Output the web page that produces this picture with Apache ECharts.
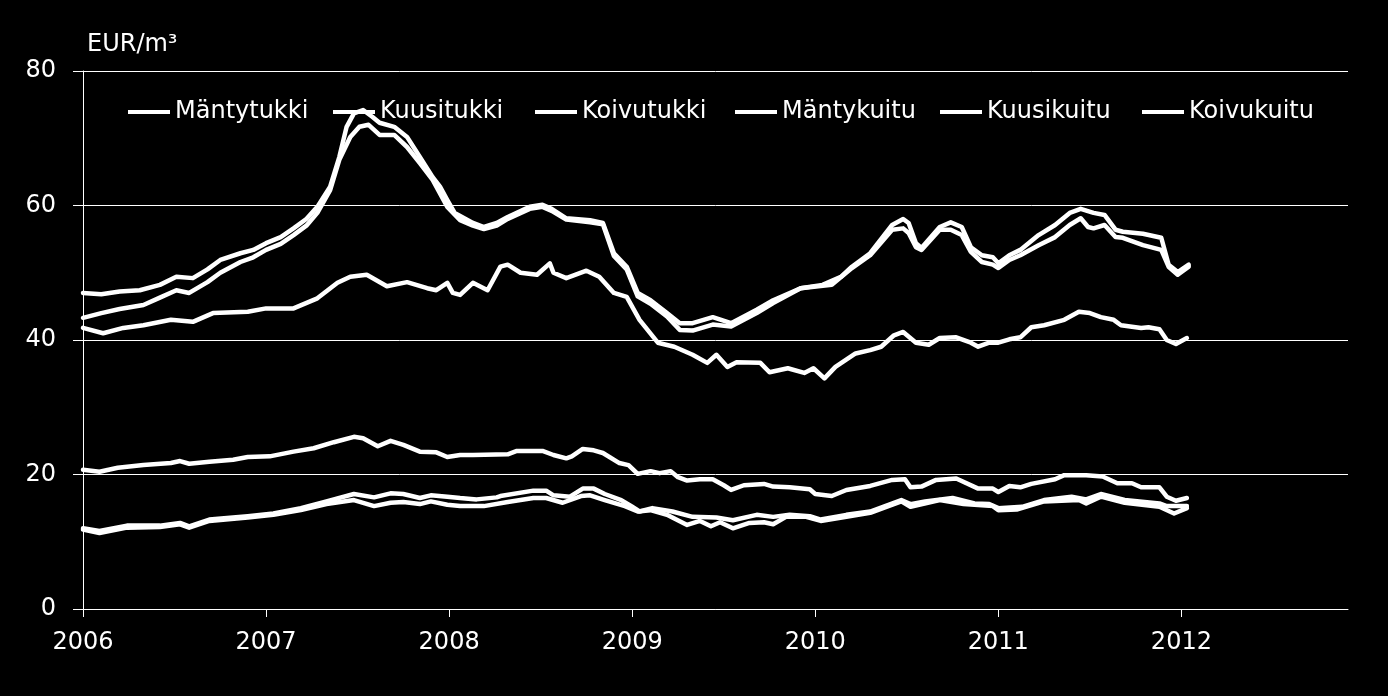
<!DOCTYPE html>
<html>
<head>
<meta charset="utf-8">
<script src="https://cdn.jsdelivr.net/npm/echarts@6/dist/echarts.min.js"></script>
<style>
html,body{margin:0;padding:0;background:#000;}
#c{width:1388px;height:696px;}
</style>
</head>
<body>
<div id="c"></div>
<script>
// ---- data (decimal year, EUR/m3) ----
var seriesNames = ['Mäntytukki','Kuusitukki','Koivutukki','Mäntykuitu','Kuusikuitu','Koivukuitu'];
var yearTicks = [2006,2007,2008,2009,2010,2011,2012];
var yTicks = [0,20,40,60,80];
var unitLabel = 'EUR/m³';

var mantytukki = [[2006.0,47.0],[2006.1,46.8],[2006.2,47.2],[2006.31,47.4],[2006.42,48.2],[2006.51,49.4],[2006.6,49.2],[2006.68,50.5],[2006.75,51.9],[2006.86,52.9],[2006.93,53.4],[2007.0,54.4],[2007.08,55.3],[2007.15,56.6],[2007.22,58.0],[2007.28,59.8],[2007.35,62.8],[2007.4,67.2],[2007.44,71.7],[2007.48,73.7],[2007.53,74.2],[2007.58,73.2],[2007.62,72.3],[2007.7,71.7],[2007.77,70.2],[2007.84,67.2],[2007.91,64.2],[2007.95,62.8],[2007.99,60.8],[2008.03,58.9],[2008.13,57.4],[2008.19,56.8],[2008.26,57.4],[2008.32,58.3],[2008.44,59.8],[2008.51,60.1],[2008.56,59.5],[2008.64,58.1],[2008.77,57.8],[2008.84,57.4],[2008.9,52.9],[2008.97,50.9],[2009.03,47.0],[2009.1,45.9],[2009.19,44.0],[2009.26,42.5],[2009.33,42.5],[2009.44,43.4],[2009.54,42.5],[2009.68,44.5],[2009.77,45.9],[2009.92,47.7],[2010.04,48.2],[2010.14,49.4],[2010.2,50.9],[2010.3,52.9],[2010.42,57.1],[2010.48,58.0],[2010.51,57.4],[2010.55,54.4],[2010.58,53.7],[2010.68,56.8],[2010.74,57.5],[2010.8,56.8],[2010.85,53.8],[2010.91,52.6],[2010.97,52.3],[2011.0,51.4],[2011.06,52.6],[2011.12,53.4],[2011.22,55.6],[2011.31,57.1],[2011.39,58.9],[2011.45,59.5],[2011.52,58.9],[2011.58,58.6],[2011.64,56.4],[2011.68,56.1],[2011.79,55.8],[2011.89,55.2],[2011.93,51.2],[2011.98,50.1],[2012.04,51.2]];

var kuusitukki = [[2006.0,43.3],[2006.1,44.0],[2006.2,44.6],[2006.33,45.2],[2006.42,46.3],[2006.51,47.4],[2006.58,47.0],[2006.68,48.6],[2006.75,50.0],[2006.86,51.6],[2006.93,52.3],[2007.0,53.4],[2007.08,54.3],[2007.15,55.6],[2007.22,57.0],[2007.28,58.9],[2007.35,62.3],[2007.4,66.8],[2007.46,70.2],[2007.51,71.7],[2007.56,72.0],[2007.62,70.5],[2007.7,70.5],[2007.77,68.7],[2007.84,66.3],[2007.91,63.8],[2007.99,59.8],[2008.06,57.8],[2008.13,57.0],[2008.19,56.5],[2008.26,57.0],[2008.32,58.0],[2008.44,59.5],[2008.51,59.8],[2008.56,59.2],[2008.64,57.9],[2008.77,57.5],[2008.84,57.2],[2008.9,52.5],[2008.97,50.5],[2009.03,46.5],[2009.1,45.4],[2009.19,43.5],[2009.26,41.5],[2009.33,41.4],[2009.44,42.3],[2009.54,42.0],[2009.68,44.0],[2009.77,45.5],[2009.92,47.7],[2010.09,48.2],[2010.2,50.7],[2010.3,52.6],[2010.42,56.4],[2010.48,56.6],[2010.51,55.9],[2010.55,53.8],[2010.58,53.4],[2010.68,56.4],[2010.74,56.4],[2010.8,55.6],[2010.85,53.1],[2010.91,51.6],[2010.97,51.2],[2011.0,50.7],[2011.06,51.9],[2011.12,52.6],[2011.22,54.1],[2011.31,55.3],[2011.39,57.1],[2011.45,58.1],[2011.49,56.8],[2011.52,56.6],[2011.58,57.1],[2011.64,55.3],[2011.68,55.2],[2011.79,54.1],[2011.89,53.4],[2011.93,50.9],[2011.98,49.7],[2012.04,50.9]];

var koivutukki = [[2006.0,41.8],[2006.11,41.0],[2006.22,41.8],[2006.33,42.2],[2006.48,43.0],[2006.6,42.7],[2006.71,44.0],[2006.9,44.2],[2007.0,44.7],[2007.15,44.7],[2007.28,46.2],[2007.39,48.5],[2007.46,49.4],[2007.55,49.7],[2007.66,48.0],[2007.77,48.6],[2007.88,47.7],[2007.93,47.4],[2007.99,48.5],[2008.02,47.0],[2008.06,46.7],[2008.13,48.5],[2008.21,47.4],[2008.28,50.9],[2008.32,51.2],[2008.39,50.0],[2008.48,49.7],[2008.55,51.4],[2008.57,50.0],[2008.64,49.2],[2008.75,50.3],[2008.82,49.4],[2008.9,47.0],[2008.97,46.4],[2009.04,43.0],[2009.14,39.6],[2009.23,39.0],[2009.33,37.8],[2009.41,36.6],[2009.46,37.8],[2009.52,36.0],[2009.57,36.7],[2009.7,36.6],[2009.75,35.2],[2009.85,35.8],[2009.94,35.1],[2009.99,35.8],[2010.05,34.3],[2010.11,36.0],[2010.22,38.0],[2010.3,38.5],[2010.36,39.0],[2010.43,40.7],[2010.48,41.2],[2010.55,39.6],[2010.62,39.3],[2010.68,40.3],[2010.77,40.4],[2010.85,39.6],[2010.89,39.0],[2010.95,39.6],[2011.0,39.6],[2011.06,40.1],[2011.12,40.4],[2011.18,41.9],[2011.25,42.2],[2011.36,43.0],[2011.44,44.2],[2011.5,44.0],[2011.56,43.4],[2011.63,43.0],[2011.67,42.2],[2011.78,41.8],[2011.82,41.9],[2011.88,41.6],[2011.92,40.0],[2011.97,39.4],[2012.03,40.3]];

var mantykuitu = [[2006.0,12.0],[2006.09,11.6],[2006.24,12.4],[2006.42,12.4],[2006.53,12.8],[2006.58,12.3],[2006.69,13.3],[2006.9,13.8],[2007.04,14.2],[2007.19,15.0],[2007.33,16.0],[2007.48,17.1],[2007.59,16.6],[2007.68,17.2],[2007.75,17.1],[2007.84,16.5],[2007.9,16.9],[2007.99,16.7],[2008.06,16.5],[2008.15,16.3],[2008.26,16.6],[2008.28,16.8],[2008.46,17.6],[2008.53,17.6],[2008.57,16.9],[2008.66,16.7],[2008.73,17.9],[2008.79,17.9],[2008.85,17.1],[2008.94,16.2],[2009.0,15.2],[2009.04,14.5],[2009.11,15.0],[2009.22,14.5],[2009.33,13.7],[2009.46,13.6],[2009.55,13.2],[2009.68,14.0],[2009.77,13.7],[2009.86,14.0],[2009.97,13.8],[2010.03,13.3],[2010.17,14.0],[2010.3,14.5],[2010.47,16.2],[2010.52,15.6],[2010.6,16.0],[2010.75,16.5],[2010.87,15.7],[2010.95,15.6],[2011.0,15.0],[2011.13,15.2],[2011.25,16.2],[2011.4,16.7],[2011.48,16.3],[2011.56,17.1],[2011.69,16.2],[2011.88,15.7],[2011.92,15.3],[2012.03,15.3]];

var kuusikuitu = [[2006.0,20.7],[2006.09,20.4],[2006.19,21.0],[2006.33,21.4],[2006.48,21.7],[2006.53,22.0],[2006.58,21.6],[2006.69,21.9],[2006.82,22.2],[2006.9,22.6],[2007.02,22.7],[2007.15,23.4],[2007.26,23.9],[2007.37,24.8],[2007.48,25.6],[2007.53,25.4],[2007.61,24.2],[2007.68,25.0],[2007.75,24.4],[2007.84,23.4],[2007.93,23.3],[2007.99,22.6],[2008.06,22.9],[2008.13,22.9],[2008.32,23.0],[2008.37,23.5],[2008.51,23.5],[2008.57,22.9],[2008.64,22.4],[2008.67,22.7],[2008.73,23.8],[2008.79,23.6],[2008.84,23.2],[2008.93,21.7],[2008.98,21.4],[2009.03,20.1],[2009.1,20.5],[2009.15,20.2],[2009.21,20.5],[2009.25,19.6],[2009.3,19.1],[2009.37,19.3],[2009.44,19.3],[2009.5,18.4],[2009.54,17.7],[2009.61,18.4],[2009.72,18.6],[2009.77,18.2],[2009.86,18.1],[2009.97,17.8],[2010.0,17.1],[2010.09,16.8],[2010.17,17.7],[2010.3,18.3],[2010.42,19.2],[2010.49,19.3],[2010.52,18.1],[2010.58,18.2],[2010.66,19.2],[2010.77,19.4],[2010.89,17.9],[2010.97,17.9],[2011.0,17.4],[2011.06,18.3],[2011.12,18.1],[2011.18,18.6],[2011.31,19.3],[2011.36,19.9],[2011.48,19.9],[2011.57,19.7],[2011.65,18.7],[2011.73,18.7],[2011.78,18.1],[2011.88,18.1],[2011.92,16.7],[2011.97,16.1],[2012.03,16.5]];

var koivukuitu = [[2006.0,11.8],[2006.09,11.3],[2006.24,12.1],[2006.42,12.2],[2006.53,12.6],[2006.58,12.1],[2006.69,13.1],[2006.9,13.6],[2007.04,14.0],[2007.19,14.7],[2007.33,15.6],[2007.48,16.2],[2007.59,15.3],[2007.68,15.8],[2007.75,15.9],[2007.84,15.6],[2007.9,16.0],[2007.99,15.5],[2008.06,15.3],[2008.19,15.3],[2008.32,15.9],[2008.46,16.5],[2008.53,16.5],[2008.62,15.8],[2008.72,16.8],[2008.77,16.9],[2008.85,16.2],[2008.96,15.3],[2009.03,14.5],[2009.1,14.7],[2009.19,14.0],[2009.3,12.5],[2009.37,13.1],[2009.43,12.3],[2009.48,12.9],[2009.55,12.0],[2009.64,12.8],[2009.72,12.9],[2009.77,12.6],[2009.84,13.7],[2009.95,13.7],[2010.03,13.1],[2010.17,13.7],[2010.3,14.3],[2010.47,16.0],[2010.52,15.2],[2010.68,16.2],[2010.81,15.6],[2010.97,15.3],[2011.0,14.7],[2011.1,14.8],[2011.25,16.0],[2011.44,16.2],[2011.48,15.7],[2011.56,16.7],[2011.69,15.8],[2011.88,15.2],[2011.96,14.2],[2012.03,15.0]];

var seriesData = [mantytukki, kuusitukki, koivutukki, mantykuitu, kuusikuitu, koivukuitu];

// ---- chart ----
var FONT = 'DejaVu Sans';
var chart = echarts.init(document.getElementById('c'), null, {renderer: 'canvas'});

var legendLefts = [123, 328, 530, 730, 935, 1137];
var legends = seriesNames.map(function (n, i) {
  return {
    data: [n],
    left: legendLefts[i],
    top: 95,
    icon: 'rect',
    itemWidth: 42,
    itemHeight: 4,
    selectedMode: false,
    textStyle: {color: '#fff', fontFamily: FONT, fontSize: 24, padding: [0, 0, 0, 0]}
  };
});

var option = {
  backgroundColor: '#000',
  animation: false,
  textStyle: {fontFamily: FONT},
  grid: {left: 83, right: 40, top: 71, bottom: 87, containLabel: false},
  legend: legends,
  graphic: [{
    type: 'text', left: 87, top: 33,
    style: {text: unitLabel, fill: '#fff', font: '24px "DejaVu Sans"'}
  }],
  xAxis: {
    type: 'value',
    min: 2006, max: 2012.91, interval: 1,
    axisLine: {show: true, lineStyle: {color: '#fff', width: 1}},
    axisTick: {show: true, length: 8, lineStyle: {color: '#fff', width: 1}, customValues: yearTicks},
    axisLabel: {color: '#fff', fontSize: 24, fontFamily: FONT, margin: 22, customValues: yearTicks,
      formatter: function (v) { return String(Math.round(v)); }},
    splitLine: {show: false}
  },
  yAxis: {
    type: 'value',
    min: 0, max: 80, interval: 20,
    axisLine: {show: true, lineStyle: {color: '#fff', width: 1}},
    axisTick: {show: true, length: 10, lineStyle: {color: '#fff', width: 1}},
    axisLabel: {color: '#fff', fontSize: 24, fontFamily: FONT, margin: 27},
    splitLine: {show: true, lineStyle: {color: '#fff', width: 1}}
  },
  series: seriesNames.map(function (n, i) {
    return {
      name: n,
      type: 'line',
      data: seriesData[i],
      showSymbol: false,
      symbol: 'none',
      smooth: false,
      color: '#fff',
      lineStyle: {color: '#fff', width: 4.5, join: 'round', cap: 'round'},
      itemStyle: {color: '#fff'}
    };
  })
};
chart.setOption(option);
</script>
</body>
</html>
